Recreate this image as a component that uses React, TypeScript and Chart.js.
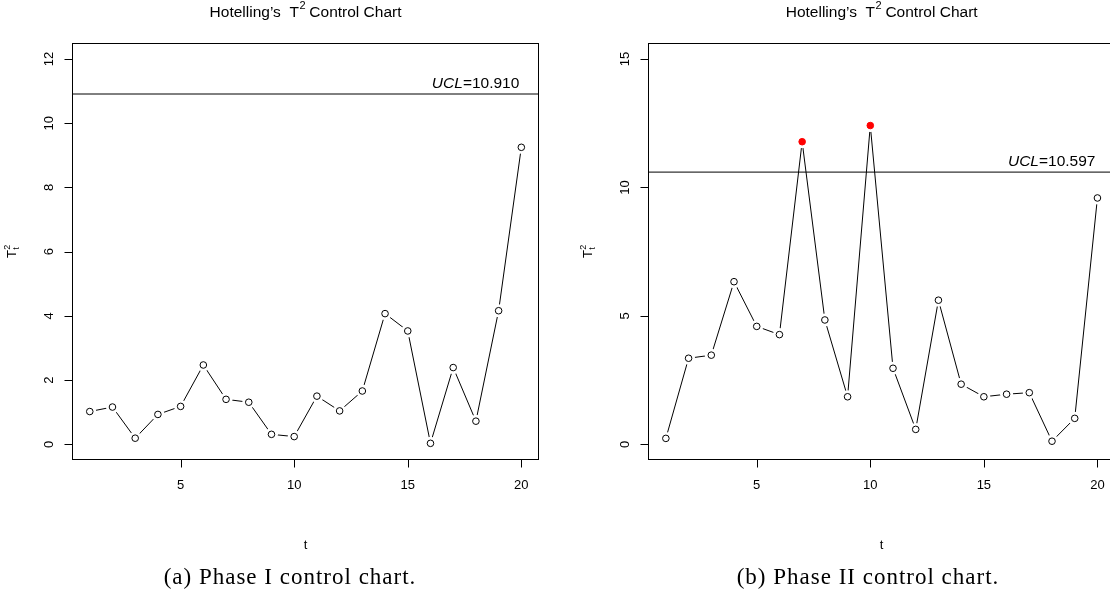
import React, { useEffect, useRef } from "react";
import { Chart, registerables } from "chart.js";

Chart.register(...registerables);

// ---------- data ----------
const samples = [1, 2, 3, 4, 5, 6, 7, 8, 9, 10, 11, 12, 13, 14, 15, 16, 17, 18, 19, 20];
const phase1T2 = [1.02, 1.16, 0.19, 0.93, 1.18, 2.47, 1.4, 1.31, 0.31, 0.24, 1.5, 1.04, 1.66, 4.07, 3.53, 0.03, 2.39, 0.72, 4.16, 9.25];
const phase2T2 = [0.23, 3.35, 3.47, 6.33, 4.59, 4.27, 11.78, 4.84, 1.85, 12.41, 2.96, 0.58, 5.61, 2.34, 1.85, 1.95, 2.01, 0.12, 1.01, 9.59];
const phase1UCL = 10.91;
const phase2UCL = 10.597;
const phase1YTicks = [0, 2, 4, 6, 8, 10, 12];
const phase2YTicks = [0, 5, 10, 15];
const xTicks = [5, 10, 15, 20];
const phase1YLim = [0, 12];
const phase2YLim = [0, 15];
const xLim = [1, 20];
const titleParts = ["Hotelling\u2019s  T", "2", " Control Chart"];
const xAxisTitle = "t";
const yAxisTitle = ["T", "2", "t"];
const uclName = "UCL";
const captions = ["(a) Phase I control chart.", "(b) Phase II control chart."];

const SANS = '"Liberation Sans", Arial, Helvetica, sans-serif';
const SERIF = '"Liberation Serif", "Times New Roman", serif';

function extend(lim: number[]) {
  const d = (lim[1] - lim[0]) * 0.04;
  return [lim[0] - d, lim[1] + d];
}

function makeDecor(ucl: number, yTicks: number[]) {
  return {
    id: "qccDecor",
    beforeDatasetsDraw(chart: any) {
      const { ctx, chartArea: ca, scales } = chart;
      const py = scales.y.getPixelForValue(ucl);
      ctx.save();
      ctx.strokeStyle = "#000";
      ctx.lineWidth = 1;
      ctx.beginPath();
      ctx.moveTo(ca.left, py);
      ctx.lineTo(ca.right, py);
      ctx.stroke();
      ctx.restore();
    },
    afterDraw(chart: any) {
      const { ctx, chartArea: ca, scales } = chart;
      const xs = scales.x;
      const ys = scales.y;
      const L = Math.floor(ca.left) + 0.5;
      const R = Math.floor(ca.right) + 0.5;
      const T = Math.floor(ca.top) + 0.5;
      const B = Math.floor(ca.bottom) + 0.5;
      ctx.save();
      ctx.strokeStyle = "#000";
      ctx.fillStyle = "#000";
      ctx.lineWidth = 1;
      // box
      ctx.strokeRect(L, T, R - L, B - T);

      // y ticks
      ctx.font = `13px ${SANS}`;
      for (const v of yTicks) {
        const py = Math.round(ys.getPixelForValue(v)) + 0.5;
        ctx.beginPath();
        ctx.moveTo(L - 8, py);
        ctx.lineTo(L, py);
        ctx.stroke();
        ctx.save();
        ctx.translate(L - 20, ys.getPixelForValue(v));
        ctx.rotate(-Math.PI / 2);
        ctx.textAlign = "center";
        ctx.textBaseline = "alphabetic";
        ctx.fillText(String(v), 0, 0);
        ctx.restore();
      }
      // x ticks
      for (const v of xTicks) {
        const px = Math.round(xs.getPixelForValue(v)) + 0.5;
        ctx.beginPath();
        ctx.moveTo(px, B);
        ctx.lineTo(px, B + 8);
        ctx.stroke();
        ctx.textAlign = "center";
        ctx.textBaseline = "alphabetic";
        ctx.fillText(String(v), xs.getPixelForValue(v), ca.bottom + 29.6);
      }
      const cx = (ca.left + ca.right) / 2;
      const cy = (ca.top + ca.bottom) / 2;
      // x title
      ctx.textAlign = "center";
      ctx.fillText(xAxisTitle, cx, ca.bottom + 89);

      // y title (rotated) T^2_t
      ctx.save();
      ctx.translate(ca.left - 57, cy);
      ctx.rotate(-Math.PI / 2);
      ctx.textAlign = "left";
      ctx.font = `13px ${SANS}`;
      const wT = ctx.measureText(yAxisTitle[0]).width;
      ctx.font = `9px ${SANS}`;
      const wSup = ctx.measureText(yAxisTitle[1]).width;
      const wSub = ctx.measureText(yAxisTitle[2]).width;
      const total = wT + Math.max(wSup, wSub);
      let x0 = -total / 2;
      ctx.font = `13px ${SANS}`;
      ctx.fillText(yAxisTitle[0], x0, 0);
      ctx.font = `9px ${SANS}`;
      ctx.fillText(yAxisTitle[1], x0 + wT + 0.5, -6);
      ctx.fillText(yAxisTitle[2], x0 + wT + 0.5, 3);
      ctx.restore();

      // title
      ctx.textAlign = "left";
      ctx.font = `15.5px ${SANS}`;
      const w1 = ctx.measureText(titleParts[0]).width;
      const w3 = ctx.measureText(titleParts[2]).width;
      ctx.font = `11px ${SANS}`;
      const w2 = ctx.measureText(titleParts[1]).width;
      let tx = cx - (w1 + w2 + w3) / 2;
      ctx.font = `15.5px ${SANS}`;
      ctx.fillText(titleParts[0], tx, 16.7);
      ctx.font = `11px ${SANS}`;
      ctx.fillText(titleParts[1], tx + w1 + 0.5, 9);
      ctx.font = `15.5px ${SANS}`;
      ctx.fillText(titleParts[2], tx + w1 + w2, 16.7);

      // UCL label
      const py = ys.getPixelForValue(ucl);
      const valText = "=" + ucl.toFixed(3);
      ctx.font = `15.5px ${SANS}`;
      const wv = ctx.measureText(valText).width;
      ctx.font = `italic 15.5px ${SANS}`;
      const wn = ctx.measureText(uclName).width;
      const rx = xs.getPixelForValue(xLim[1]) - 2;
      ctx.fillText(uclName, rx - wv - wn, py - 6.2);
      ctx.font = `15.5px ${SANS}`;
      ctx.fillText(valText, rx - wv, py - 6.2);
      ctx.restore();
    },
  };
}

type PanelProps = {
  left: number;
  width: number;
  padLeft: number;
  values: number[];
  ucl: number;
  yLim: number[];
  yTicks: number[];
};

function Panel({ left, width, padLeft, values, ucl, yLim, yTicks }: PanelProps) {
  const ref = useRef<HTMLCanvasElement | null>(null);
  useEffect(() => {
    if (!ref.current) return;
    const pts = samples.map((s, i) => ({ x: s, y: values[i] }));
    const out = values.map((v) => v > ucl);
    const xr = extend(xLim);
    const yr = extend(yLim);
    const chart = new Chart(ref.current, {
      type: "line",
      data: {
        datasets: [
          {
            data: pts,
            borderColor: "#000",
            borderWidth: 1,
            pointRadius: 0,
            tension: 0,
            fill: false,
            order: 3,
          } as any,
          {
            data: pts,
            showLine: false,
            pointRadius: 6.5,
            pointBackgroundColor: "#fff",
            pointBorderWidth: 0,
            pointBorderColor: "#fff",
            order: 2,
          } as any,
          {
            data: pts,
            showLine: false,
            pointRadius: 3.3,
            pointBorderWidth: 1,
            pointBackgroundColor: out.map((o) => (o ? "#ff0000" : "#fff")),
            pointBorderColor: out.map((o) => (o ? "#ff0000" : "#000")),
            order: 1,
          } as any,
        ],
      },
      options: {
        animation: false,
        responsive: false,
        maintainAspectRatio: false,
        devicePixelRatio: 1,
        events: [],
        layout: {
          padding: { left: padLeft, right: width - (padLeft + 466.1), top: 43.6, bottom: 598 - 459.7 },
        },
        plugins: { legend: { display: false }, tooltip: { enabled: false }, title: { display: false } },
        scales: {
          x: { type: "linear", min: xr[0], max: xr[1], display: false },
          y: { type: "linear", min: yr[0], max: yr[1], display: false },
        },
      },
      plugins: [makeDecor(ucl, yTicks)],
    } as any);
    return () => chart.destroy();
  }, []);
  return (
    <canvas
      ref={ref}
      width={width}
      height={598}
      style={{ position: "absolute", left, top: 0, width, height: 598 }}
    />
  );
}

export default function App() {
  const capStyle = (center: number): React.CSSProperties => ({
    position: "absolute",
    left: center - 200,
    width: 400,
    top: 564.7,
    textAlign: "center",
    fontFamily: SERIF,
    fontSize: 23,
    lineHeight: "23px",
    letterSpacing: "1px",
    color: "#000",
    whiteSpace: "nowrap",
  });
  return (
    <div
      style={{
        position: "fixed",
        left: 0,
        top: 0,
        width: 1110,
        height: 598,
        overflow: "hidden",
        background: "#fff",
      }}
    >
      <Panel left={0} width={555} padLeft={72.5} values={phase1T2} ucl={phase1UCL} yLim={phase1YLim} yTicks={phase1YTicks} />
      <Panel left={555} width={575} padLeft={93.6} values={phase2T2} ucl={phase2UCL} yLim={phase2YLim} yTicks={phase2YTicks} />
      <div style={capStyle(290)}>{captions[0]}</div>
      <div style={capStyle(868)}>{captions[1]}</div>
    </div>
  );
}
